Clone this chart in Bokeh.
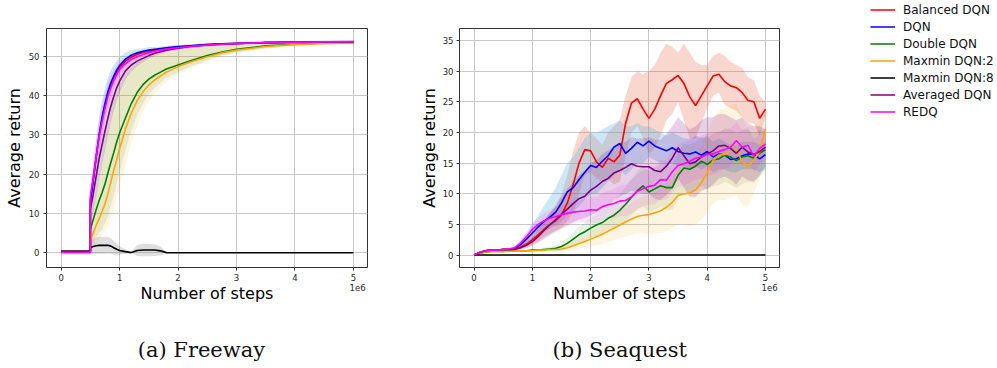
import numpy as np
from bokeh.plotting import figure
from bokeh.layouts import row, column
from bokeh.models import (Range1d, FixedTicker, Legend, LegendItem, LinearAxis,
                          CustomJSTickFormatter)
from bokeh.embed import file_html
from bokeh.resources import INLINE

# ---------------- DATA ----------------
series_names = ["Balanced DQN", "DQN", "Double DQN", "Maxmin DQN:2",
                "Maxmin DQN:8", "Averaged DQN", "REDQ"]
series_colors = ["red", "blue", "green", "orange", "black", "purple", "magenta"]

x_ticks = [0, 1, 2, 3, 4, 5]
freeway_y_ticks = [0, 10, 20, 30, 40, 50]
seaquest_y_ticks = [0, 5, 10, 15, 20, 25, 30, 35]
x_label = "Number of steps"
y_label = "Average return"
x_offset_text = "1e6"
captions = ["(a) Freeway", "(b) Seaquest"]

# Freeway (steps in 1e6)
fx = [0.0, 0.5, 0.5, 0.55, 0.6, 0.65, 0.7, 0.75, 0.8, 0.85, 0.9, 0.95, 1.0, 1.1, 1.2,
      1.3, 1.4, 1.5, 1.6, 1.7, 1.8, 2.0, 2.2, 2.5, 2.75, 3.0, 3.5, 4.0, 4.5, 5.0]
fw_redq = [0.05, 0.05, 14.5, 19, 24.5, 29.5, 33.3, 36.7, 39.8, 42, 43.8, 45.3, 46.6, 48.2, 49.2,
           49.9, 50.5, 50.9, 51.3, 51.6, 51.9, 52.2, 52.5, 52.9, 53.1, 53.3, 53.5, 53.6, 53.7, 53.8]
fw_dqn = [0.3, 0.3, 13, 18.5, 24.5, 30, 34.5, 38, 41, 43.3, 45, 46.5, 47.7, 49.3, 50.3,
          50.9, 51.3, 51.6, 51.8, 52.0, 52.2, 52.5, 52.7, 53.0, 53.2, 53.3, 53.5, 53.6, 53.7, 53.7]
fw_bal = [0.3, 0.3, 13.5, 18.8, 24.5, 29.8, 34, 37.5, 40.5, 42.8, 44.5, 46, 47.2, 48.8, 49.8,
          50.5, 51, 51.3, 51.6, 51.8, 52.0, 52.4, 52.6, 53.0, 53.2, 53.3, 53.5, 53.6, 53.7, 53.7]
fw_avg = [0.3, 0.3, 11, 15, 19.5, 24, 27.5, 31, 34.3, 37.3, 39.8, 42, 43.7, 46.3, 47.8,
          48.8, 49.5, 50.2, 50.8, 51.2, 51.6, 52.1, 52.5, 52.9, 53.1, 53.3, 53.5, 53.6, 53.7, 53.7]
fw_double = [0.3, 0.3, 6, 8.5, 11, 13.3, 15.3, 17.5, 20.3, 23, 25.5, 28.2, 30.5, 34.3, 38,
             40.8, 42.8, 44.2, 45.2, 46, 46.8, 47.8, 48.8, 50.2, 51.1, 51.8, 52.7, 53.1, 53.4, 53.5]
fw_maxmin2 = [0.3, 0.3, 3.3, 5, 7, 8.7, 10.5, 12.5, 15, 18, 21, 23.7, 26.5, 31.5, 35.6,
              38.7, 41, 42.7, 44, 45, 46, 47.4, 48.5, 49.9, 50.9, 51.6, 52.5, 53.0, 53.3, 53.4]
fw_maxmin8 = [0.4, 0.4, 1.3, 1.6, 1.8, 1.9, 1.9, 1.9, 1.9, 1.7, 1.3, 0.9, 0.6, 0.3, 0.05,
              0.6, 0.7, 0.7, 0.7, 0.5, 0.05, 0, 0, 0, 0, 0, 0, 0, 0, 0]
fw_maxmin8_hw = [0.1, 0.1, 1.5, 2.0, 2.1, 2.2, 2.2, 2.2, 2.1, 2.0, 1.8, 1.5, 1.1, 0.6, 0.1,
                 1.4, 1.6, 1.6, 1.5, 1.2, 0.1, 0, 0, 0, 0, 0, 0, 0, 0, 0]
fw_fast_hw = [0.1, 0.1, 3, 4, 4.5, 4.5, 4.2, 4, 3.6, 3.2, 2.8, 2.4, 2.1, 1.6, 1.3,
              1.0, 0.8, 0.7, 0.6, 0.5, 0.5, 0.4, 0.4, 0.4, 0.3, 0.3, 0.3, 0.3, 0.3, 0.3]
fw_avg_hw = [0.1, 0.1, 4, 5, 5.5, 5.5, 5.3, 5, 4.6, 4.2, 3.8, 3.3, 2.9, 2.2, 1.7,
             1.3, 1.0, 0.8, 0.7, 0.6, 0.5, 0.5, 0.4, 0.4, 0.3, 0.3, 0.3, 0.3, 0.3, 0.3]
fw_double_hi = [0.5, 0.5, 11, 15, 20, 24, 28, 31.5, 35, 38, 40.5, 42.5, 44, 46.5, 48,
                49, 49.7, 50.3, 50.8, 51.2, 51.5, 52, 52.4, 52.8, 53.1, 53.3, 53.5, 53.7, 53.8, 53.9]
fw_double_lo = [0.1, 0.1, 2, 3, 4, 5, 6, 7.5, 9.5, 12, 14.5, 17.5, 20.5, 26, 31,
                35, 38, 40.3, 42, 43.3, 44.5, 46, 47.3, 49, 50.2, 51, 52, 52.7, 53, 53.2]
fw_maxmin2_hi = [0.5, 0.5, 8, 11, 15, 19, 23, 27, 31, 34.5, 37.5, 40, 42, 45, 47,
                 48.3, 49.2, 49.9, 50.4, 50.8, 51.2, 51.8, 52.2, 52.7, 53, 53.2, 53.5, 53.6, 53.7, 53.8]
fw_maxmin2_lo = [0.1, 0.1, 1, 1.5, 2.5, 3.5, 4.5, 5.5, 7, 9, 11.5, 14, 17, 22.5, 28,
                 32.5, 36, 38.5, 40.5, 42, 43.5, 45.5, 47, 48.8, 50, 50.9, 52, 52.6, 52.9, 53.1]

# Seaquest (steps in 1e6, every 0.1e6)
sx = [i / 10 for i in range(51)]
sq_bal = [0.0, 0.4, 0.7, 0.8, 0.8, 0.9, 0.9, 1.0, 1.3, 1.8, 2.5, 3.3, 4.2, 5.0, 5.6, 6.5, 8.5,
          11.5, 15.0, 17.2, 17.0, 15.2, 14.3, 15.8, 15.2, 16.3, 21.5, 24.8, 25.5, 23.8, 22.3,
          23.8, 26.0, 28.0, 28.6, 29.3, 28.0, 25.8, 24.4, 26.0, 27.6, 29.2, 29.5, 28.3, 27.6,
          27.3, 26.5, 25.2, 25.0, 22.3, 23.8]
sq_bal_hi = [0.0, 0.6, 0.9, 1.0, 1.0, 1.1, 1.1, 1.3, 1.8, 2.5, 3.5, 4.5, 5.5, 7.0, 8.0, 10.0,
             13.0, 17.0, 20.0, 21.0, 20.0, 19.0, 18.0, 20.0, 21.0, 22.0, 26.0, 29.0, 30.0, 29.5,
             30.0, 31.0, 33.0, 34.5, 34.0, 33.0, 34.5, 33.0, 31.5, 31.0, 31.0, 32.5, 33.0, 32.5,
             31.5, 31.0, 30.5, 29.0, 28.5, 26.0, 25.0]
sq_bal_lo = [0.0, 0.2, 0.5, 0.6, 0.6, 0.7, 0.7, 0.8, 1.0, 1.3, 1.8, 2.3, 3.0, 3.5, 4.0, 4.5,
             5.5, 7.0, 10.0, 13.0, 13.5, 12.5, 12.0, 12.5, 11.5, 12.0, 16.0, 20.0, 21.0, 19.0,
             16.5, 17.5, 19.5, 22.0, 23.0, 25.0, 22.0, 19.0, 19.0, 21.5, 24.0, 26.0, 26.5, 24.5,
             24.0, 23.5, 22.5, 21.5, 21.5, 19.5, 22.5]
sq_dqn = [0.0, 0.4, 0.7, 0.8, 0.8, 0.9, 0.9, 1.1, 1.7, 2.6, 3.6, 4.6, 5.5, 6.2, 7.0, 8.5, 10.3,
          11.0, 12.3, 13.5, 14.6, 14.3, 15.3, 16.2, 17.6, 18.2, 16.6, 17.4, 18.4, 17.8, 18.6,
          17.8, 17.4, 17.0, 17.5, 16.9, 16.6, 16.5, 16.8, 16.3, 16.9, 16.0, 16.5, 16.3, 15.6,
          15.7, 16.2, 16.5, 16.4, 15.7, 16.4]
sq_dqn_hi = [0.0, 0.6, 0.9, 1.0, 1.0, 1.1, 1.1, 1.4, 2.3, 3.5, 5.0, 6.5, 8.0, 9.5, 11.0, 13.0,
             15.0, 16.0, 17.5, 19.0, 20.0, 20.0, 20.5, 21.0, 21.5, 22.0, 21.0, 21.0, 21.5, 21.0,
             21.0, 20.5, 20.0, 19.5, 20.0, 19.5, 19.0, 19.0, 19.5, 19.0, 19.5, 18.5, 19.0, 18.5,
             18.0, 18.0, 18.5, 18.5, 18.5, 18.0, 18.5]
sq_dqn_lo = [0.0, 0.2, 0.5, 0.6, 0.6, 0.7, 0.7, 0.9, 1.3, 1.8, 2.5, 3.2, 3.8, 4.3, 4.8, 5.5,
             6.5, 7.0, 8.0, 9.0, 10.0, 10.0, 11.0, 12.0, 13.0, 14.0, 13.0, 14.0, 15.0, 15.0,
             16.0, 15.5, 15.0, 14.5, 15.0, 14.5, 14.5, 14.0, 14.5, 14.0, 14.5, 13.5, 14.0, 14.0,
             13.5, 13.5, 14.0, 14.0, 14.0, 13.5, 14.0]
sq_double = [0.0, 0.3, 0.5, 0.6, 0.6, 0.6, 0.7, 0.7, 0.7, 0.7, 0.8, 0.8, 0.9, 1.0, 1.1, 1.4,
             1.9, 2.6, 3.3, 3.8, 4.4, 4.9, 5.3, 6.0, 6.5, 7.3, 8.3, 9.4, 10.5, 11.3, 10.3, 10.8,
             11.3, 11.0, 11.0, 13.0, 14.2, 14.0, 14.5, 15.3, 14.8, 15.5, 15.7, 16.3, 16.0, 15.4,
             16.0, 16.2, 15.8, 16.6, 17.2]
sq_double_hw = [0.0, 0.1, 0.1, 0.1, 0.1, 0.1, 0.1, 0.1, 0.1, 0.1, 0.1, 0.2, 0.3, 0.4, 0.5,
                0.7, 0.9, 1.1, 1.3, 1.5, 1.6, 1.8, 2.0, 2.2, 2.4, 2.6, 2.8, 3.0, 3.2, 3.3, 3.3,
                3.4, 3.5, 3.6, 3.7, 3.8, 3.9, 4.0, 4.0, 4.0, 4.2, 4.3, 4.3, 4.4, 4.5, 4.5, 4.4,
                4.3, 4.0, 3.8, 3.5]
sq_maxmin2 = [0.0, 0.3, 0.5, 0.6, 0.6, 0.6, 0.6, 0.7, 0.7, 0.7, 0.7, 0.8, 0.8, 0.9, 0.9, 1.0,
              1.2, 1.5, 1.9, 2.2, 2.6, 3.0, 3.4, 3.9, 4.4, 4.9, 5.4, 5.9, 6.3, 6.5, 6.6, 6.9,
              7.2, 7.8, 8.6, 9.7, 10.0, 10.1, 10.6, 11.8, 13.4, 15.4, 16.3, 16.4, 16.9, 17.3,
              15.2, 14.4, 15.6, 16.8, 20.5]
sq_maxmin2_hw = [0.0, 0.1, 0.1, 0.1, 0.1, 0.1, 0.1, 0.1, 0.1, 0.2, 0.2, 0.2, 0.2, 0.3, 0.3,
                 0.4, 0.5, 0.7, 0.9, 1.0, 1.2, 1.4, 1.6, 1.8, 2.0, 2.2, 2.4, 2.6, 2.8, 3.0, 3.2,
                 3.4, 3.6, 3.9, 4.2, 4.6, 5.0, 5.3, 5.6, 6.0, 6.5, 7.0, 7.3, 7.5, 7.5, 7.5, 7.0,
                 6.5, 5.5, 4.5, 3.0]
sq_maxmin8 = [0.0] * 51
sq_avg = [0.0, 0.4, 0.7, 0.8, 0.8, 0.9, 0.9, 0.9, 1.2, 1.6, 2.2, 3.0, 4.0, 4.9, 5.8, 6.7, 7.5,
          8.4, 9.2, 9.6, 10.6, 11.2, 12.0, 12.5, 13.4, 13.8, 14.3, 14.9, 14.5, 14.4, 14.4,
          13.8, 13.6, 14.5, 15.8, 17.5, 16.2, 14.9, 15.2, 16.0, 16.5, 17.0, 17.8, 17.9, 17.4,
          16.6, 17.6, 16.8, 16.4, 16.9, 17.6]
sq_avg_hi = [0.0, 0.5, 0.8, 0.9, 0.9, 1.0, 1.0, 1.1, 1.6, 2.2, 3.0, 4.2, 5.5, 6.8, 8.0, 9.5,
             10.8, 12.0, 13.0, 13.8, 15.0, 15.5, 16.5, 17.0, 17.8, 18.2, 18.5, 19.2, 19.0, 19.0,
             19.2, 18.8, 18.8, 19.8, 21.0, 22.5, 21.5, 20.5, 21.0, 22.0, 22.5, 22.5, 23.0, 23.0,
             22.5, 22.0, 22.5, 21.5, 21.0, 21.0, 20.5]
sq_avg_lo = [0.0, 0.3, 0.6, 0.7, 0.7, 0.8, 0.8, 0.7, 0.9, 1.1, 1.5, 2.0, 2.6, 3.2, 3.8, 4.3,
             4.8, 5.3, 5.8, 6.0, 6.5, 7.0, 7.5, 8.0, 9.0, 9.5, 10.0, 10.5, 10.2, 10.0, 10.0,
             9.2, 9.0, 9.8, 10.8, 12.5, 11.0, 9.5, 9.5, 10.5, 10.8, 11.5, 12.5, 12.8, 12.3, 11.5,
             12.8, 12.2, 12.0, 13.0, 14.5]
sq_redq = [0.0, 0.5, 0.7, 0.8, 0.8, 0.9, 1.0, 1.2, 2.0, 3.0, 4.2, 5.0, 5.6, 6.0, 6.3, 6.6,
           6.8, 7.0, 7.1, 7.2, 7.4, 7.3, 7.9, 8.2, 8.4, 8.8, 8.9, 9.5, 10.4, 10.8, 11.2, 11.4,
           12.3, 12.2, 13.6, 14.6, 14.9, 15.3, 15.8, 16.0, 16.4, 16.5, 16.9, 17.2, 17.6, 18.7,
           17.6, 17.9, 16.1, 17.4, 18.1]
sq_redq_hw = [0.0, 0.1, 0.1, 0.1, 0.1, 0.1, 0.2, 0.3, 0.5, 0.8, 1.0, 1.1, 1.2, 1.3, 1.4, 1.5,
              1.6, 1.7, 1.8, 1.9, 2.0, 2.1, 2.2, 2.3, 2.4, 2.5, 2.6, 2.7, 2.8, 2.9, 3.0, 3.1,
              3.2, 3.3, 3.4, 3.5, 3.5, 3.5, 3.5, 3.5, 3.5, 3.4, 3.3, 3.2, 3.1, 3.0, 2.9, 2.8,
              2.7, 2.6, 2.5]

# ---------------- STYLE HELPERS ----------------
FONT = "DejaVu Sans"


def const_formatter(text):
    return CustomJSTickFormatter(code="return %r;" % text)


def style(p, yticks, ylabel_standoff, ytick_standoff, offset_x, caption_x, caption):
    p.xaxis.ticker = FixedTicker(ticks=x_ticks)
    p.yaxis.ticker = FixedTicker(ticks=yticks)
    p.xgrid.ticker = FixedTicker(ticks=x_ticks)
    p.ygrid.ticker = FixedTicker(ticks=yticks)
    p.grid.grid_line_color = "#c8c8c8"
    p.grid.grid_line_width = 1
    p.outline_line_color = "#333333"
    p.outline_line_width = 1
    p.background_fill_color = "white"
    p.border_fill_color = "white"
    for ax in (p.xaxis, p.yaxis):
        ax.axis_line_color = None
        ax.major_tick_line_color = "#333333"
        ax.major_tick_in = 0
        ax.major_tick_out = 3
        ax.minor_tick_line_color = None
        ax.major_label_text_font = FONT
        ax.major_label_text_font_size = "8.5px"
        ax.major_label_text_color = "#262626"
        ax.axis_label_text_font = FONT
        ax.axis_label_text_font_size = "16px"
        ax.axis_label_text_font_style = "normal"
        ax.axis_label_text_color = "black"
    p.xaxis.major_label_standoff = 3
    p.yaxis.axis_label = y_label
    p.yaxis.major_label_standoff = ytick_standoff
    p.yaxis.axis_label_standoff = ylabel_standoff

    # second bottom axis: offset text "1e6" + axis title
    ax2 = LinearAxis(ticker=FixedTicker(ticks=[offset_x]),
                     formatter=const_formatter(x_offset_text),
                     axis_line_color=None, major_tick_line_color=None,
                     minor_tick_line_color=None, major_tick_in=0, major_tick_out=0,
                     major_label_standoff=0,
                     major_label_text_font=FONT, major_label_text_font_size="8.5px",
                     major_label_text_color="#262626",
                     axis_label=x_label, axis_label_standoff=-10,
                     axis_label_text_font=FONT, axis_label_text_font_size="16px",
                     axis_label_text_font_style="normal", axis_label_text_color="black")
    p.add_layout(ax2, "below")
    # third bottom axis: sub-figure caption
    ax3 = LinearAxis(ticker=FixedTicker(ticks=[caption_x]),
                     formatter=const_formatter(caption),
                     axis_line_color=None, major_tick_line_color=None,
                     minor_tick_line_color=None, major_tick_in=0, major_tick_out=0,
                     major_label_standoff=32,
                     major_label_text_font="DejaVu Serif", major_label_text_font_size="21px",
                     major_label_text_color="#111111")
    p.add_layout(ax3, "below")


def band(p, x, lo, hi, color, alpha):
    p.varea(x=x, y1=lo, y2=hi, fill_color=color, fill_alpha=alpha)


# ---------------- FREEWAY ----------------
p1 = figure(width=400, height=368, x_range=Range1d(-0.25, 5.24), y_range=Range1d(-3.74, 57.1),
            output_backend="svg", toolbar_location=None,
            min_border_left=46, min_border_right=33, min_border_top=28, min_border_bottom=101)
style(p1, freeway_y_ticks, 2, 4, 5.07, 2.40, captions[0])

band(p1, fx, fw_double_lo, fw_double_hi, "#008000", 0.10)
band(p1, fx, fw_maxmin2_lo, fw_maxmin2_hi, "#ffa500", 0.12)
band(p1, fx, np.array(fw_avg) - fw_avg_hw, np.array(fw_avg) + fw_avg_hw, "#800080", 0.15)
band(p1, fx, np.array(fw_dqn) - fw_fast_hw, np.array(fw_dqn) + fw_fast_hw, "#5aaee6", 0.3)
band(p1, fx, np.array(fw_redq) - fw_fast_hw, np.array(fw_redq) + fw_fast_hw, "#ff00ff", 0.12)
band(p1, fx, np.array(fw_maxmin8) - fw_maxmin8_hw, np.array(fw_maxmin8) + fw_maxmin8_hw,
     "#808080", 0.25)

fw_series = [fw_bal, fw_dqn, fw_double, fw_maxmin2, fw_maxmin8, fw_avg, fw_redq]
for ys, c in zip(fw_series, series_colors):
    p1.line(fx, ys, line_color=c, line_width=1.6)

# ---------------- SEAQUEST ----------------
p2 = figure(width=420, height=368, x_range=Range1d(-0.25, 5.24), y_range=Range1d(-2.03, 36.96),
            output_backend="svg", toolbar_location=None,
            min_border_left=59, min_border_right=41, min_border_top=28, min_border_bottom=101)
style(p2, seaquest_y_ticks, 1, 3, 5.07, 2.50, captions[1])

band(p2, sx, sq_bal_lo, sq_bal_hi, "#e8603c", 0.25)
band(p2, sx, sq_dqn_lo, sq_dqn_hi, "#5aaee6", 0.3)
band(p2, sx, np.array(sq_double) - sq_double_hw, np.array(sq_double) + sq_double_hw,
     "#008000", 0.10)
band(p2, sx, np.array(sq_maxmin2) - sq_maxmin2_hw, np.array(sq_maxmin2) + sq_maxmin2_hw,
     "#ffa500", 0.12)
band(p2, sx, sq_avg_lo, sq_avg_hi, "#800080", 0.18)
band(p2, sx, np.array(sq_redq) - sq_redq_hw, np.array(sq_redq) + sq_redq_hw, "#ff00ff", 0.10)

sq_series = [sq_bal, sq_dqn, sq_double, sq_maxmin2, sq_maxmin8, sq_avg, sq_redq]
renderers = []
for ys, c in zip(sq_series, series_colors):
    renderers.append(p2.line(sx, ys, line_color=c, line_width=1.6))

# ---------------- LEGEND ----------------
p3 = figure(width=177, height=368, x_range=Range1d(0, 1), y_range=Range1d(0, 1),
            output_backend="svg", toolbar_location=None,
            x_axis_location=None, y_axis_location=None,
            min_border_left=49, min_border_right=0, min_border_top=0, min_border_bottom=0)
if "frame_align" in p3.properties():
    p3.frame_align = False
p3.outline_line_color = None
p3.grid.visible = False
items = []
for name, r in zip(series_names, renderers):
    # legend proxies share the series' line style (kept outside the visible range)
    proxy = p3.line(x=[5, 6], y=[5, 6], line_color=r.glyph.line_color, line_width=1.5)
    items.append(LegendItem(label=name, renderers=[proxy]))
legend = Legend(items=items, location="top_left", glyph_width=25, glyph_height=17,
                label_height=17, spacing=0, padding=0, margin=1, label_standoff=8,
                label_text_font=FONT, label_text_font_size="12px",
                label_text_color="#111111", border_line_color=None,
                background_fill_alpha=0)
p3.add_layout(legend, "center")

layout = row(p1, p2, column(p3))
open("out.html", "w").write(file_html(layout, INLINE))
